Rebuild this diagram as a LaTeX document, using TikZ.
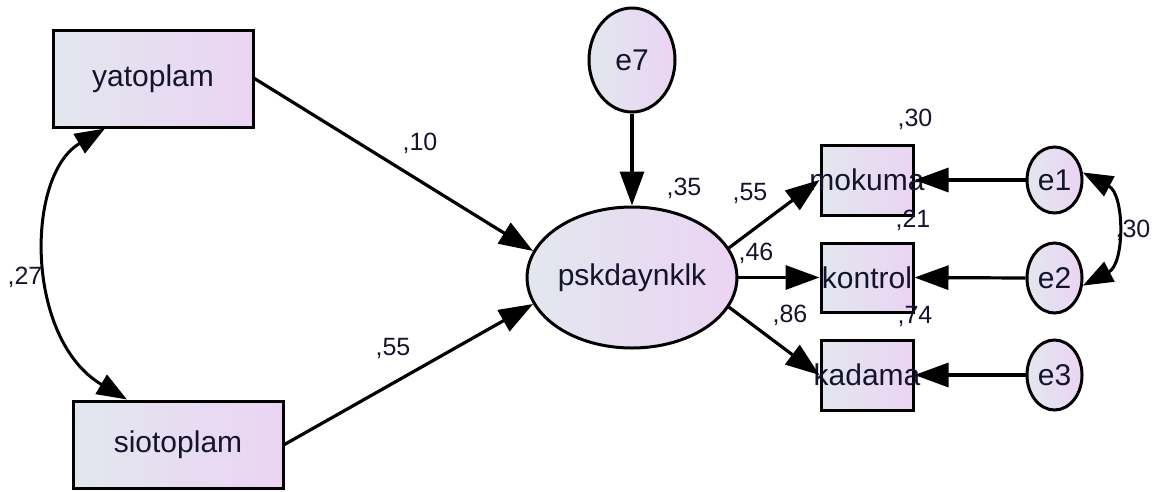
\documentclass[tikz,border=0pt]{standalone}
\usepackage{fontspec}
\setmainfont{Liberation Sans}
\usetikzlibrary{arrows.meta,shapes.geometric}
\definecolor{fillL}{RGB}{226,231,238}
\definecolor{fillR}{RGB}{235,212,243}
\definecolor{txt}{RGB}{20,20,45}
\tikzset{
  obsvar/.style={draw, line width=3pt, rectangle, inner sep=0pt,
    left color=fillL, right color=fillR, text=txt,
    font=\fontsize{30}{32}\selectfont},
  latvar/.style={draw, line width=3pt, ellipse, inner sep=0pt,
    left color=fillL, right color=fillR, text=txt,
    font=\fontsize{30}{32}\selectfont},
  regarrow/.style={line width=3.2pt, -{Triangle[length=34pt,width=24pt]}},
  covarrow/.style={line width=3pt,
    {Triangle[length=30pt,width=22pt]}-{Triangle[length=30pt,width=22pt]}},
  coef/.style={text=txt, font=\fontsize{25}{27}\selectfont, inner sep=0pt},
}
% label that may spill over its box without widening it
\newcommand{\spill}[1]{\makebox[0pt]{#1}}
\begin{document}
\begin{tikzpicture}[x=1pt, y=-1pt]
\useasboundingbox (0,0) rectangle (1153,491);

% exogenous observed variables
\node[obsvar, minimum width=200pt, minimum height=97pt] (yatoplam) at (153,78.5) {yatoplam};
\node[obsvar, minimum width=210pt, minimum height=87pt] (siotoplam) at (178,444.5) {siotoplam};

% latent variable and its disturbance
\node[latvar, minimum width=86pt, minimum height=104pt] (e7) at (632,60) {e7};
\node[latvar, minimum width=184pt, minimum height=141pt] (psk) at (632,277.5) {pskdaynklk};

% indicators
\node[obsvar, minimum width=92pt, minimum height=70pt] (mokuma) at (867,180) {\spill{mokuma}};
\node[obsvar, minimum width=92pt, minimum height=69pt] (kontrol) at (867,277.5) {\spill{kontrol}};
\node[obsvar, minimum width=92pt, minimum height=70pt] (kadama) at (867,375) {\spill{kadama}};

% measurement errors
\node[latvar, minimum width=55pt, minimum height=66pt] (e1) at (1054.5,180) {e1};
\node[latvar, minimum width=55pt, minimum height=70pt] (e2) at (1054.5,278) {e2};
\node[latvar, minimum width=55pt, minimum height=70pt] (e3) at (1054.5,375) {e3};

% regression paths
\draw[regarrow] (yatoplam.east) -- (psk.165);
\draw[regarrow] (siotoplam.east) -- (psk.-165);
\draw[regarrow] (e7.south) -- (psk.north);
\draw[regarrow] (psk.17) -- (mokuma.west);
\draw[regarrow] (psk.east) -- (kontrol.west);
\draw[regarrow] (psk.-17) -- (kadama.west);
\draw[regarrow] (e1.west) -- (mokuma.east);
\draw[regarrow] (e2.west) -- (kontrol.east);
\draw[regarrow] (e3.west) -- (kadama.east);

% covariances
\draw[covarrow] ([xshift=-48pt]yatoplam.south) .. controls +(-80,47) and +(-102,-60) .. ([xshift=-51pt]siotoplam.north);
\draw[covarrow] (e1.15) .. controls +(42,22) and +(42,-22) .. (e2.-15);

% estimates
\node[coef] (c10) at (420,143) {,10};
\node[coef] (c55a) at (393,348) {,55};
\node[coef] (c27) at (25,277) {,27};
\node[coef] (c35) at (684,188) {,35};
\node[coef] (c55b) at (750,193) {,55};
\node[coef] (c46) at (756,253) {,46};
\node[coef] (c86) at (790,315) {,86};
\node[coef] (r30) at (915,119) {,30};
\node[coef] (r21) at (913,220) {,21};
\node[coef] (r74) at (915,316) {,74};
\node[coef] (c30) at (1133,230) {,30};
\end{tikzpicture}
\end{document}
